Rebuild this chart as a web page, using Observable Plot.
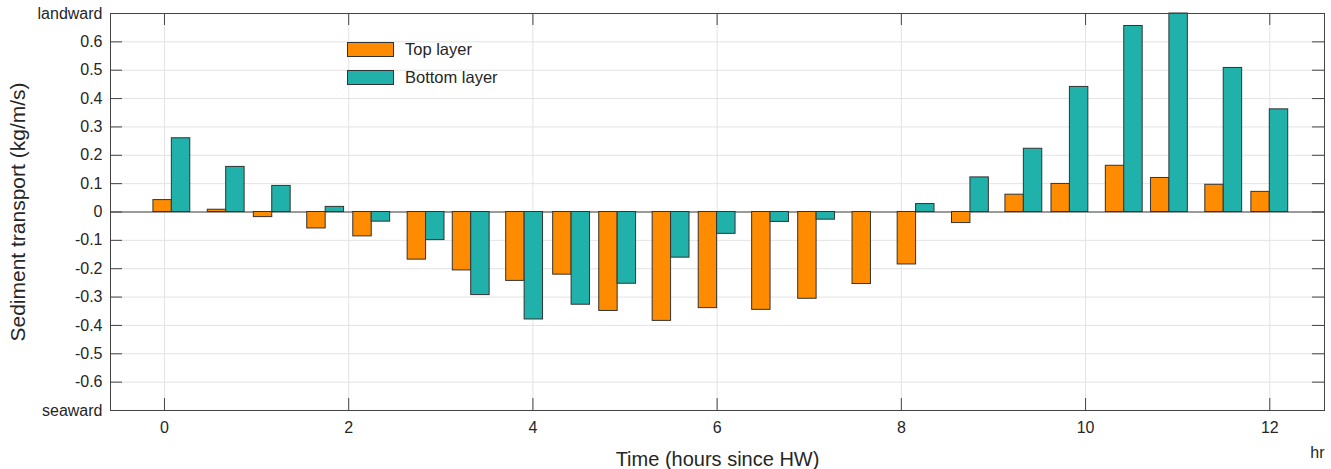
<!DOCTYPE html>
<html>
<head>
<meta charset="utf-8">
<script src="https://cdn.jsdelivr.net/npm/d3@7"></script>
<script src="https://cdn.jsdelivr.net/npm/@observablehq/plot@0.6"></script>
<style>
  html, body { margin: 0; padding: 0; background: #fff; }
  #wrap { position: relative; width: 1331px; height: 469px; font-family: "Liberation Sans", Arial, sans-serif; }
  .leg { position: absolute; display: flex; align-items: center; font-size: 16.5px; color: #262626; }
  .sw { width: 45px; height: 13px; border: 1px solid #333; margin-right: 11px; }
  #wrap g[aria-label="y-axis tick label"] text { font-size: 16px; }
  #wrap g[aria-label="x-axis tick label"] text { font-size: 16px; }
</style>
</head>
<body>
<div id="wrap"></div>
<script>
// ---- data ----
const times = [0.08, 0.67, 1.17, 1.75, 2.25, 2.84, 3.33, 3.91, 4.42, 4.92, 5.50, 6.00, 6.58, 7.08, 7.67, 8.16, 8.75, 9.33, 9.83, 10.42, 10.91, 11.50, 12.00];
const topLayer = [0.042, 0.008, -0.018, -0.058, -0.086, -0.168, -0.206, -0.243, -0.221, -0.349, -0.384, -0.339, -0.345, -0.306, -0.254, -0.185, -0.039, 0.061, 0.099, 0.163, 0.120, 0.096, 0.071];
const bottomLayer = [0.260, 0.159, 0.092, 0.018, -0.034, -0.099, -0.293, -0.379, -0.327, -0.253, -0.161, -0.077, -0.035, -0.027, 0, 0.028, 0.122, 0.223, 0.441, 0.656, 0.700, 0.508, 0.362];
const seriesNames = ["Top layer", "Bottom layer"];
const xTicks = [0, 2, 4, 6, 8, 10, 12];
const yTicks = [-0.7, -0.6, -0.5, -0.4, -0.3, -0.2, -0.1, 0, 0.1, 0.2, 0.3, 0.4, 0.5, 0.6, 0.7];
const yEndLabels = {"0.7": "landward", "-0.7": "seaward"};
const xLabel = "Time (hours since HW)";
const yLabel = "Sediment transport (kg/m/s)";
const xUnit = "hr";

// ---- styling ----
const colors = ["#FF8C00", "#20B2AA"];
const W = 0.2; // bar width in hours
const width = 1331, height = 469;
const mL = 110, mR = 7, mT = 13, mB = 59;
const innerW = width - mL - mR, innerH = height - mT - mB;
const tickLen = 12;
const axisColor = "#444";

const topRows = times.map((t, i) => ({t, v: topLayer[i]}));
const botRows = times.map((t, i) => ({t, v: bottomLayer[i]}));

const fmtY = d => yEndLabels[String(d)] ?? String(d);

const chart = Plot.plot({
  width, height,
  marginLeft: mL, marginRight: mR, marginTop: mT, marginBottom: mB,
  style: {fontFamily: "'Liberation Sans', Arial, sans-serif", fontSize: "16px", color: "#262626", background: "#fff"},
  x: {domain: [-0.586, 12.594]},
  y: {domain: [-0.7, 0.7]},
  marks: [
    Plot.gridY(yTicks, {stroke: "#e3e3e3", strokeOpacity: 1}),
    Plot.gridX(xTicks, {stroke: "#e3e3e3", strokeOpacity: 1}),
    Plot.ruleY([0], {stroke: axisColor}),
    Plot.rect(topRows, {x1: d => d.t - W, x2: d => d.t, y1: 0, y2: d => d.v, fill: colors[0], stroke: "#333", strokeWidth: 1}),
    Plot.rect(botRows, {x1: d => d.t, x2: d => d.t + W, y1: 0, y2: d => d.v, fill: colors[1], stroke: "#333", strokeWidth: 1}),
    // inward tick marks on all four sides
    Plot.ruleY(yTicks, {stroke: axisColor, insetRight: innerW - tickLen}),
    Plot.ruleY(yTicks, {stroke: axisColor, insetLeft: innerW - tickLen}),
    Plot.ruleX(xTicks, {stroke: axisColor, insetTop: innerH - tickLen}),
    Plot.ruleX(xTicks, {stroke: axisColor, insetBottom: innerH - tickLen}),
    Plot.axisX(xTicks, {tickSize: 0, tickPadding: 11, tickFormat: d => String(d), label: null}),
    Plot.axisY(yTicks, {tickSize: 0, tickPadding: 8, tickFormat: fmtY, label: null}),
    Plot.frame({stroke: axisColor, strokeWidth: 1}),
    Plot.text([xLabel], {frameAnchor: "bottom", dy: 55, lineAnchor: "bottom", fontSize: 20, fill: "#262626"}),
    Plot.text([xUnit], {frameAnchor: "bottom-right", dy: 47, textAnchor: "end", lineAnchor: "bottom", fontSize: 16, fill: "#262626"}),
    Plot.text([yLabel], {frameAnchor: "left", dx: -92, rotate: -90, textAnchor: "middle", lineAnchor: "middle", fontSize: 21, fill: "#262626"})
  ]
});

const wrap = document.getElementById("wrap");
wrap.appendChild(chart);

// legend (inside the axes, top-left)
const legendTops = [42, 70];
seriesNames.forEach((name, i) => {
  const row = document.createElement("div");
  row.className = "leg";
  row.style.left = "347px";
  row.style.top = legendTops[i] + "px";
  row.style.height = "15px";
  const sw = document.createElement("div");
  sw.className = "sw";
  sw.style.background = colors[i];
  const label = document.createElement("span");
  label.textContent = name;
  row.appendChild(sw);
  row.appendChild(label);
  wrap.appendChild(row);
});
</script>
</body>
</html>
